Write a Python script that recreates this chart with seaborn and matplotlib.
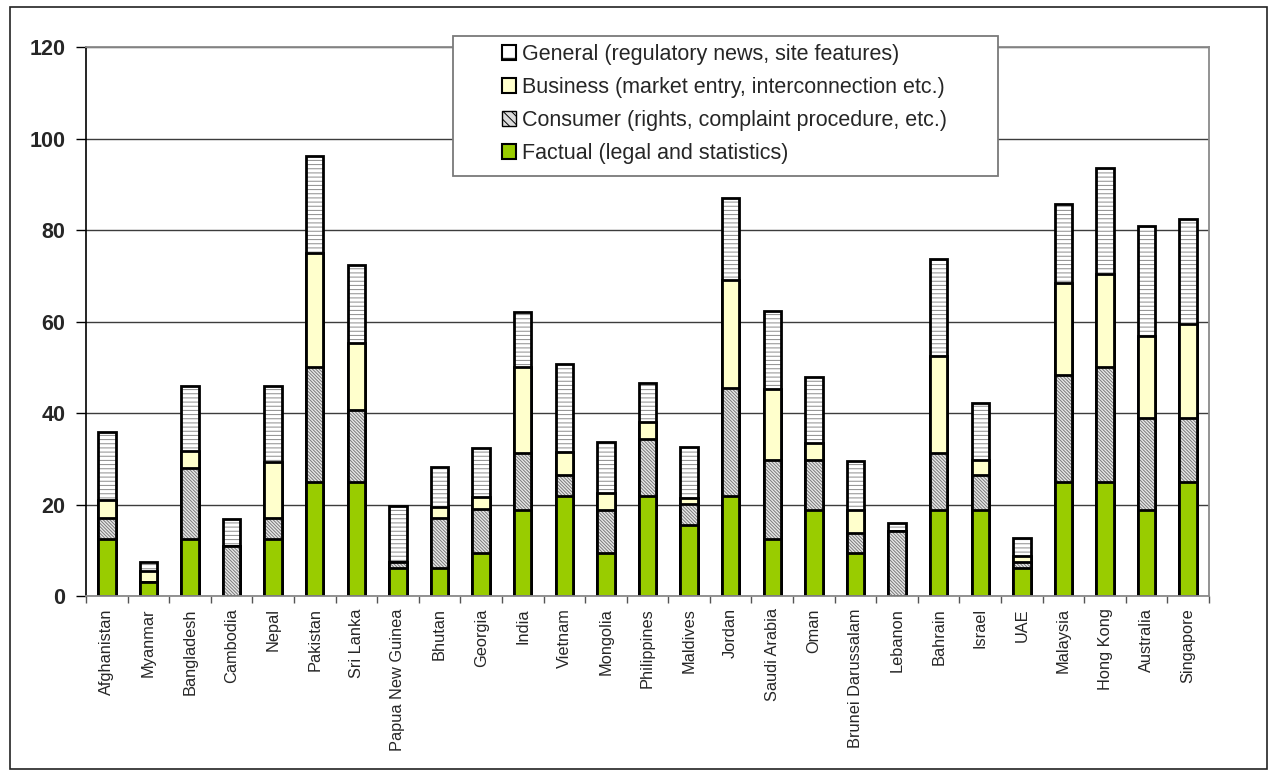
import numpy as np
import matplotlib
matplotlib.use("Agg")
import matplotlib.pyplot as plt
from matplotlib.patches import Patch, Rectangle
import seaborn as sns

# Countries in display order
countries = ["Afghanistan", "Myanmar", "Bangladesh", "Cambodia", "Nepal", "Pakistan",
             "Sri Lanka", "Papua New Guinea", "Bhutan", "Georgia", "India", "Vietnam",
             "Mongolia", "Philippines", "Maldives", "Jordan", "Saudi Arabia", "Oman",
             "Brunei Darussalam", "Lebanon", "Bahrain", "Israel", "UAE", "Malaysia",
             "Hong Kong", "Australia", "Singapore"]

# Score per content category (stacked bottom to top)
factual = [12.5, 3.1, 12.5, 0.0, 12.5, 25.0, 25.0, 6.2, 6.2, 9.4, 18.8, 21.9, 9.4, 21.9,
           15.6, 21.9, 12.5, 18.8, 9.4, 0.0, 18.8, 18.8, 6.2, 25.0, 25.0, 18.8, 25.0]
consumer = [4.5, 0.0, 15.5, 10.9, 4.5, 25.0, 15.6, 1.4, 10.8, 9.7, 12.4, 4.7, 9.4, 12.4,
            4.5, 23.5, 17.2, 10.9, 4.5, 14.2, 12.5, 7.6, 1.4, 23.4, 25.0, 20.2, 14.0]
business = [4.0, 2.4, 3.8, 0.0, 12.3, 25.0, 14.7, 0.0, 2.6, 2.6, 18.8, 4.9, 3.8, 3.8,
            1.4, 23.7, 15.5, 3.7, 4.9, 0.0, 21.2, 3.4, 1.1, 20.0, 20.4, 17.9, 20.4]
general = [15.0, 2.1, 14.2, 6.0, 16.7, 21.2, 17.0, 12.2, 8.6, 10.6, 12.0, 19.2, 11.1, 8.6,
           11.1, 17.9, 17.1, 14.6, 10.8, 1.9, 21.2, 12.5, 4.1, 17.2, 23.1, 23.9, 23.1]

series_labels = ["General (regulatory news, site features)",
                 "Business (market entry, interconnection etc.)",
                 "Consumer (rights, complaint procedure, etc.)",
                 "Factual (legal and statistics)"]
yticks = [0, 20, 40, 60, 80, 100, 120]

sns.set_style("white")
plt.rcParams["font.family"] = ["Liberation Sans", "DejaVu Sans"]
plt.rcParams["hatch.linewidth"] = 0.7

W, H = 1270, 770
fig = plt.figure(figsize=(W / 100, H / 100), dpi=100)
ax = fig.add_axes([86 / W, 1 - 596.3 / H, (1209 - 86) / W, (596.3 - 47) / H])

f = np.array(factual)
c = np.array(consumer)
b = np.array(business)
g = np.array(general)

# Each layer is drawn as a cumulative bar, tallest first, so the next one covers it
layers = [
    (f + c + b + g, "#ffffff", "----", "#8c8c8c"),
    (f + c + b, "#ffffcc", None, None),
    (f + c, "#e8e8e8", "\\\\\\\\\\\\\\\\\\\\", "#7a7a7a"),
    (f, "#99cc00", None, None),
]
bar_w = 0.42
for tops, face, hatch, hatch_col in layers:
    sns.barplot(x=countries, y=tops, color=face, saturation=1, width=bar_w,
                errorbar=None, hatch=hatch,
                edgecolor=hatch_col if hatch else face, linewidth=0, ax=ax)
    sns.barplot(x=countries, y=tops, fill=False, color="black", width=bar_w,
                errorbar=None, linewidth=2.0, ax=ax)

ax.set_xlim(-0.5, len(countries) - 0.5)
ax.set_ylim(0, 120)
ax.set_xlabel("")
ax.set_ylabel("")

# Gridlines and frame
ax.set_axisbelow(True)
ax.yaxis.grid(True, color="#3c3c3c", linewidth=1.0)
ax.xaxis.grid(False)
for side in ["top", "right"]:
    ax.spines[side].set_color("#8a8a8a")
    ax.spines[side].set_linewidth(1.3)
ax.spines["left"].set_color("black")
ax.spines["left"].set_linewidth(1.2)
ax.spines["bottom"].set_color("#8a8a8a")
ax.spines["bottom"].set_linewidth(1.3)

ax.set_yticks(yticks)
ax.set_yticklabels([str(v) for v in yticks], fontsize=15.5, fontweight="bold")
ax.tick_params(axis="y", direction="out", length=7, width=1, color="black", pad=8, left=True)

ax.set_xticks(range(len(countries)))
ax.set_xticklabels(countries, rotation=90, fontsize=11.8)
ax.set_xticks(np.arange(-0.5, len(countries), 1.0), minor=True)
ax.tick_params(axis="x", which="major", length=0, pad=8.6)
ax.tick_params(axis="x", which="minor", direction="out", length=5, width=1,
               color="#555555", bottom=True)

# Outer chart border
fig.add_artist(Rectangle((10 / W, 1 / H), (1267 - 10) / W, (769 - 7) / H,
                         transform=fig.transFigure, fill=False,
                         edgecolor="#222222", linewidth=1.2))

# Legend box
fig.add_artist(Rectangle((453 / W, 1 - 176 / H), (998 - 453) / W, (176 - 35.7) / H,
                         transform=fig.transFigure, facecolor="white",
                         edgecolor="#7a7a7a", linewidth=1.3, zorder=3))

handles = [
    Patch(facecolor="white", edgecolor="black", hatch="-", linewidth=1.5, label=series_labels[0]),
    Patch(facecolor="#ffffcc", edgecolor="black", linewidth=1.5, label=series_labels[1]),
    Patch(facecolor="#dcdcdc", edgecolor="black", hatch="\\\\\\\\", linewidth=1.0, label=series_labels[2]),
    Patch(facecolor="#99cc00", edgecolor="black", linewidth=1.5, label=series_labels[3]),
]
leg = fig.legend(handles=handles, loc="upper left", bbox_to_anchor=(502 / W, 1 - 44 / H),
                 frameon=False, fontsize=15.5, handlelength=0.65, handleheight=0.65,
                 handletextpad=0.3, labelspacing=0.56, borderpad=0, borderaxespad=0)
leg.set_zorder(4)

fig.savefig("out.png", dpi=100)
